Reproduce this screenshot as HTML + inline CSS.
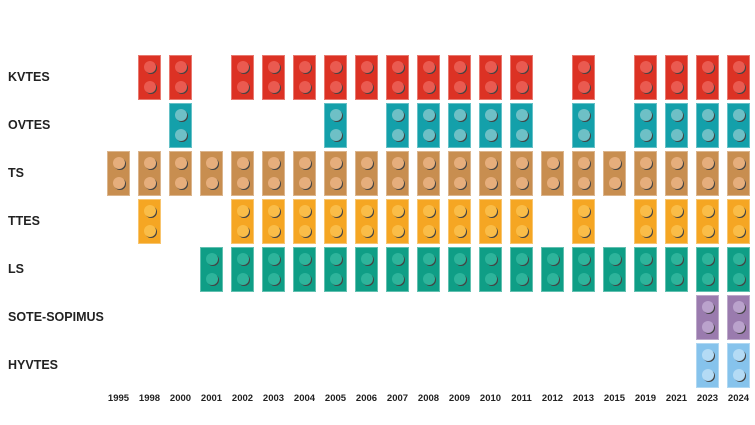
<!DOCTYPE html><html><head><style>
body{margin:0;width:755px;height:425px;background:#fff;position:relative;overflow:hidden;font-family:"Liberation Sans",sans-serif}
.l{position:absolute;left:8px;font-weight:bold;font-size:12.5px;color:#222}
.y{position:absolute;top:393px;width:31px;text-align:center;font-weight:bold;font-size:9.5px;color:#222}
.b{position:absolute;width:23px;height:45px;box-sizing:border-box;border:1px solid rgba(255,255,255,.35)}
.c{position:absolute;left:5px;width:12px;height:12px;border-radius:50%;box-shadow:1px 1px 0 #444}
</style></head><body>
<script>
const yrs=[1995,1998,2000,2001,2002,2003,2004,2005,2006,2007,2008,2009,2010,2011,2012,2013,2015,2019,2021,2023,2024];
const rows=[
["KVTES","#dc3224","#ea5a50",[1998,2000,2002,2003,2004,2005,2006,2007,2008,2009,2010,2011,2013,2019,2021,2023,2024]],
["OVTES","#14a0aa","#6ec0c6",[2000,2005,2007,2008,2009,2010,2011,2013,2019,2021,2023,2024]],
["TS","#c88e50","#e6ae7c",yrs],
["TTES","#f5a623","#fabd48",[1998,2002,2003,2004,2005,2006,2007,2008,2009,2010,2011,2013,2019,2021,2023,2024]],
["LS","#0f9e86","#2db49b",yrs.filter(y=>y>=2001)],
["SOTE-SOPIMUS","#9a7bae","#baa2cc",[2023,2024]],
["HYVTES","#86c3ec","#b4dbf5",[2023,2024]]];
let h="";
rows.forEach((r,i)=>{const t=55+48*i;
h+=`<div class="l" style="top:${t+15}px">${r[0]}</div>`;
r[3].forEach(y=>{const x=107+31*yrs.indexOf(y);
h+=`<div class="b" style="left:${x}px;top:${t}px;background:${r[1]}"><div class="c" style="top:5px;background:${r[2]}"></div><div class="c" style="top:25px;background:${r[2]}"></div></div>`;});});
yrs.forEach((y,i)=>{h+=`<div class="y" style="left:${103+31*i}px">${y}</div>`;});
document.body.insertAdjacentHTML("beforeend",h);
</script>
</body></html>
